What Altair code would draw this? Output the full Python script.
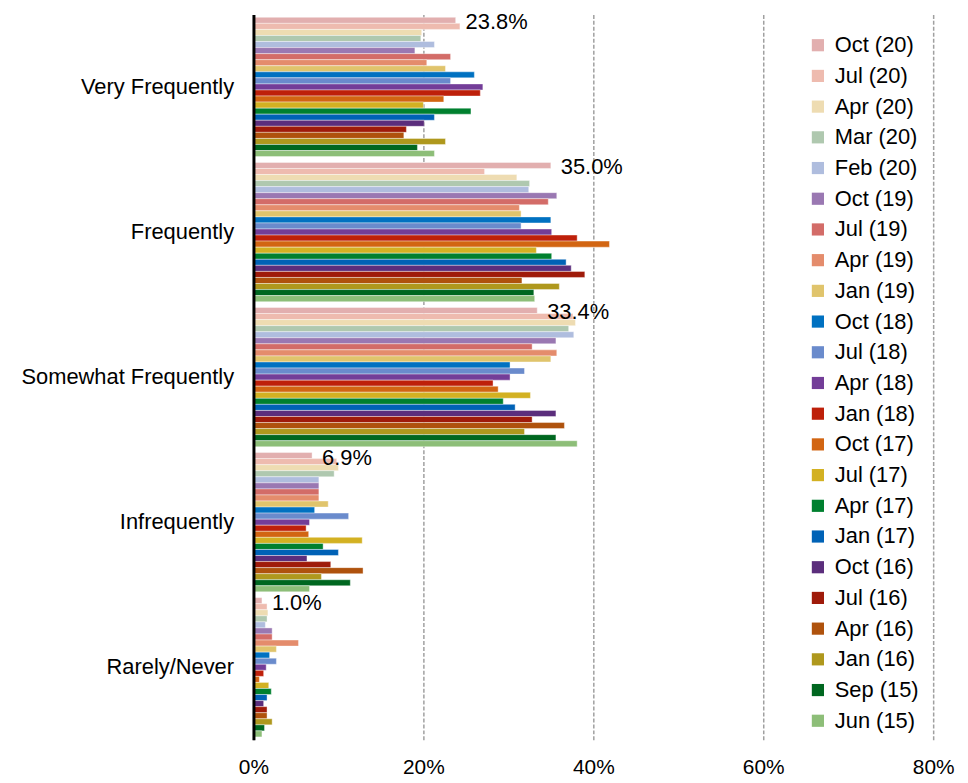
import altair as alt
import pandas as pd

categories = ["Very Frequently", "Frequently", "Somewhat Frequently", "Infrequently", "Rarely/Never"]
series = ["Oct (20)", "Jul (20)", "Apr (20)", "Mar (20)", "Feb (20)", "Oct (19)", "Jul (19)", "Apr (19)",
          "Jan (19)", "Oct (18)", "Jul (18)", "Apr (18)", "Jan (18)", "Oct (17)", "Jul (17)", "Apr (17)",
          "Jan (17)", "Oct (16)", "Jul (16)", "Apr (16)", "Jan (16)", "Sep (15)", "Jun (15)"]
colors = ["#E2AFAF", "#EEBBAF", "#EEDCB2", "#AFC8AF", "#AFBDDE", "#9A78B2", "#D36C68", "#E48C6C",
          "#E0C46C", "#0071C1", "#6A8BCC", "#733D98", "#BE200A", "#D26512", "#D3B122", "#00802F",
          "#0062B6", "#5B2E7C", "#9F1B0A", "#AF520D", "#AF981D", "#006720", "#8DBE78"]

very_frequently = [23.8, 24.3, 19.8, 19.7, 21.3, 19.0, 23.2, 20.4, 22.6, 26.0, 23.2, 27.0,
                   26.7, 22.4, 20.0, 25.6, 21.3, 20.1, 18.0, 17.7, 22.6, 19.3, 21.3]
frequently = [35.0, 27.2, 31.0, 32.5, 32.4, 35.7, 34.7, 31.3, 31.5, 35.0, 31.5, 35.1,
              38.1, 41.9, 33.3, 35.1, 36.8, 37.4, 39.0, 31.6, 36.0, 33.0, 33.1]
somewhat_frequently = [33.4, 37.6, 37.9, 37.1, 37.7, 35.6, 32.8, 35.7, 35.0, 30.2, 31.9, 30.2,
                       28.2, 28.8, 32.6, 29.4, 30.8, 35.6, 32.8, 36.6, 31.9, 35.6, 38.1]
infrequently = [6.9, 9.8, 10.0, 9.5, 7.7, 7.7, 7.7, 7.7, 8.8, 7.2, 11.2, 6.6,
                6.2, 6.5, 12.8, 8.2, 10.0, 6.3, 9.1, 12.9, 8.0, 11.4, 6.6]
rarely_never = [1.0, 1.6, 1.7, 1.6, 1.4, 2.2, 2.2, 5.3, 2.7, 1.9, 2.7, 1.5,
                1.2, 0.7, 1.8, 2.1, 1.6, 1.2, 1.6, 1.6, 2.2, 1.3, 1.0]

x_ticks = [0, 0.2, 0.4, 0.6, 0.8]

rows = []
for cat, vals in zip(categories, [very_frequently, frequently, somewhat_frequently, infrequently, rarely_never]):
    for s, v in zip(series, vals):
        rows.append({"category": cat, "series": s, "v": v / 100.0})
df = pd.DataFrame(rows)

FONT = "Liberation Sans"
FS = 22

y_enc = alt.Y("category:N", sort=categories, title=None,
              scale=alt.Scale(paddingInner=0.04, paddingOuter=0.02),
              axis=alt.Axis(domain=True, domainColor="black", domainWidth=3, ticks=False,
                            grid=False, labelFontSize=FS, labelFont=FONT, labelColor="black",
                            labelPadding=20, minExtent=247, labelLimit=400, zindex=2))
yoff_enc = alt.YOffset("series:N", sort=series, scale=alt.Scale(paddingInner=0, paddingOuter=0))
x_enc = alt.X("v:Q", title=None,
              scale=alt.Scale(domain=[0, 0.8], nice=False),
              axis=alt.Axis(values=x_ticks, format=".0%", domain=False, ticks=False,
                            grid=True, gridDash=[4, 2], gridColor="#A0A0A0", gridWidth=1.5,
                            labelFontSize=21, labelFont=FONT, labelColor="black",
                            labelPadding=17, labelFlush=False))

bars = alt.Chart(df).mark_bar(stroke="white", strokeWidth=0.4).encode(
    y=y_enc,
    yOffset=yoff_enc,
    x=x_enc,
    color=alt.Color("series:N", sort=series,
                    scale=alt.Scale(domain=series, range=colors),
                    legend=alt.Legend(title=None, orient="none", legendX=557, legendY=20,
                                      symbolType="square", symbolSize=150, symbolStrokeWidth=0,
                                      labelFontSize=FS, labelFont=FONT, labelColor="black",
                                      rowPadding=8.9, padding=0, labelOffset=6)),
)

labels = alt.Chart(df).transform_filter(
    alt.datum.series == "Oct (20)"
).mark_text(align="left", baseline="middle", dx=10, dy=2, fontSize=FS, font=FONT, color="black").encode(
    y=alt.Y("category:N", sort=categories),
    yOffset=alt.YOffset("series:N", sort=series),
    x=alt.X("v:Q"),
    text=alt.Text("v:Q", format=".1%"),
)

chart = alt.layer(bars, labels).properties(
    width=684, height=730,
    padding={"left": 0, "top": 0, "right": 5, "bottom": 5},
).configure_view(stroke=None)

chart.save("out.html", embed_options={"renderer": "svg", "actions": False})
